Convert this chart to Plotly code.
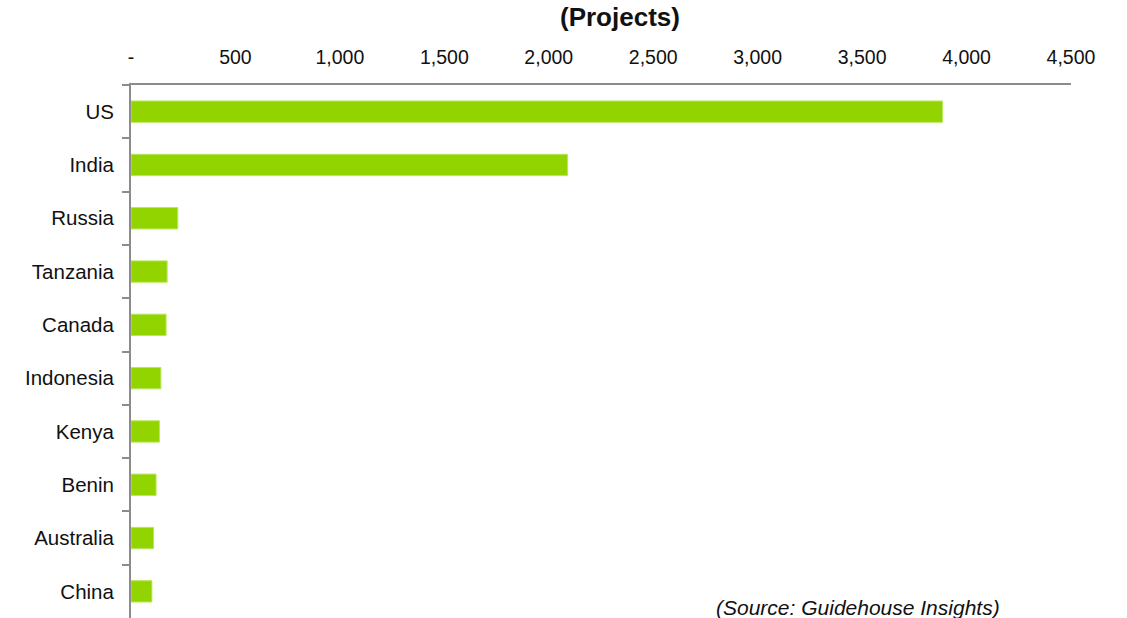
import plotly.graph_objects as go

countries = ["US", "India", "Russia", "Tanzania", "Canada", "Indonesia",
             "Kenya", "Benin", "Australia", "China"]
projects = [3885, 2090, 224, 173, 168, 143, 136, 120, 108, 100]

tick_vals = [0, 500, 1000, 1500, 2000, 2500, 3000, 3500, 4000, 4500]
tick_text = ["-", "500", "1,000", "1,500", "2,000", "2,500", "3,000",
             "3,500", "4,000", "4,500"]

FONT = "Liberation Sans, Arial, sans-serif"

fig = go.Figure(go.Bar(
    x=projects,
    y=countries,
    orientation="h",
    width=0.4,
    marker=dict(color="#92D400", line=dict(color="#B8E65C", width=1)),
))

fig.update_layout(
    width=1127, height=618,
    margin=dict(l=131, r=56, t=85, b=0),
    paper_bgcolor="white", plot_bgcolor="white",
    showlegend=False,
    font=dict(family=FONT, size=20, color="#111111"),
    bargap=0.6,
)

fig.update_xaxes(
    side="top",
    range=[0, 4500],
    tickvals=tick_vals,
    ticktext=tick_text,
    showgrid=False,
    zeroline=False,
    showline=True,
    linecolor="#8c8c8c",
    linewidth=2,
    ticks="",
    ticklabelstandoff=11,
    tickfont=dict(size=19.5, color="#111111"),
)

fig.update_yaxes(
    categoryorder="array",
    categoryarray=countries,
    autorange="reversed",
    showgrid=False,
    zeroline=False,
    showline=True,
    linecolor="#8c8c8c",
    linewidth=2,
    ticks="outside",
    ticklen=7,
    tickwidth=2,
    tickcolor="#8c8c8c",
    tickson="boundaries",
    ticklabelstandoff=11,
    tickfont=dict(size=20.5, color="#111111"),
)

fig.add_annotation(
    text="<b>(Projects)</b>",
    xref="paper", yref="paper",
    x=(620 - 131) / 940, y=1 + (85 - 17) / 533,
    xanchor="center", yanchor="middle",
    showarrow=False,
    font=dict(family=FONT, size=26, color="#111111"),
)

fig.add_annotation(
    text="<i>(Source: Guidehouse Insights)</i>",
    xref="paper", yref="paper",
    x=(858 - 131) / 940, y=(618 - 607) / 533,
    xanchor="center", yanchor="middle",
    showarrow=False,
    font=dict(family=FONT, size=21, color="#111111"),
)

fig.write_html("out.html")
